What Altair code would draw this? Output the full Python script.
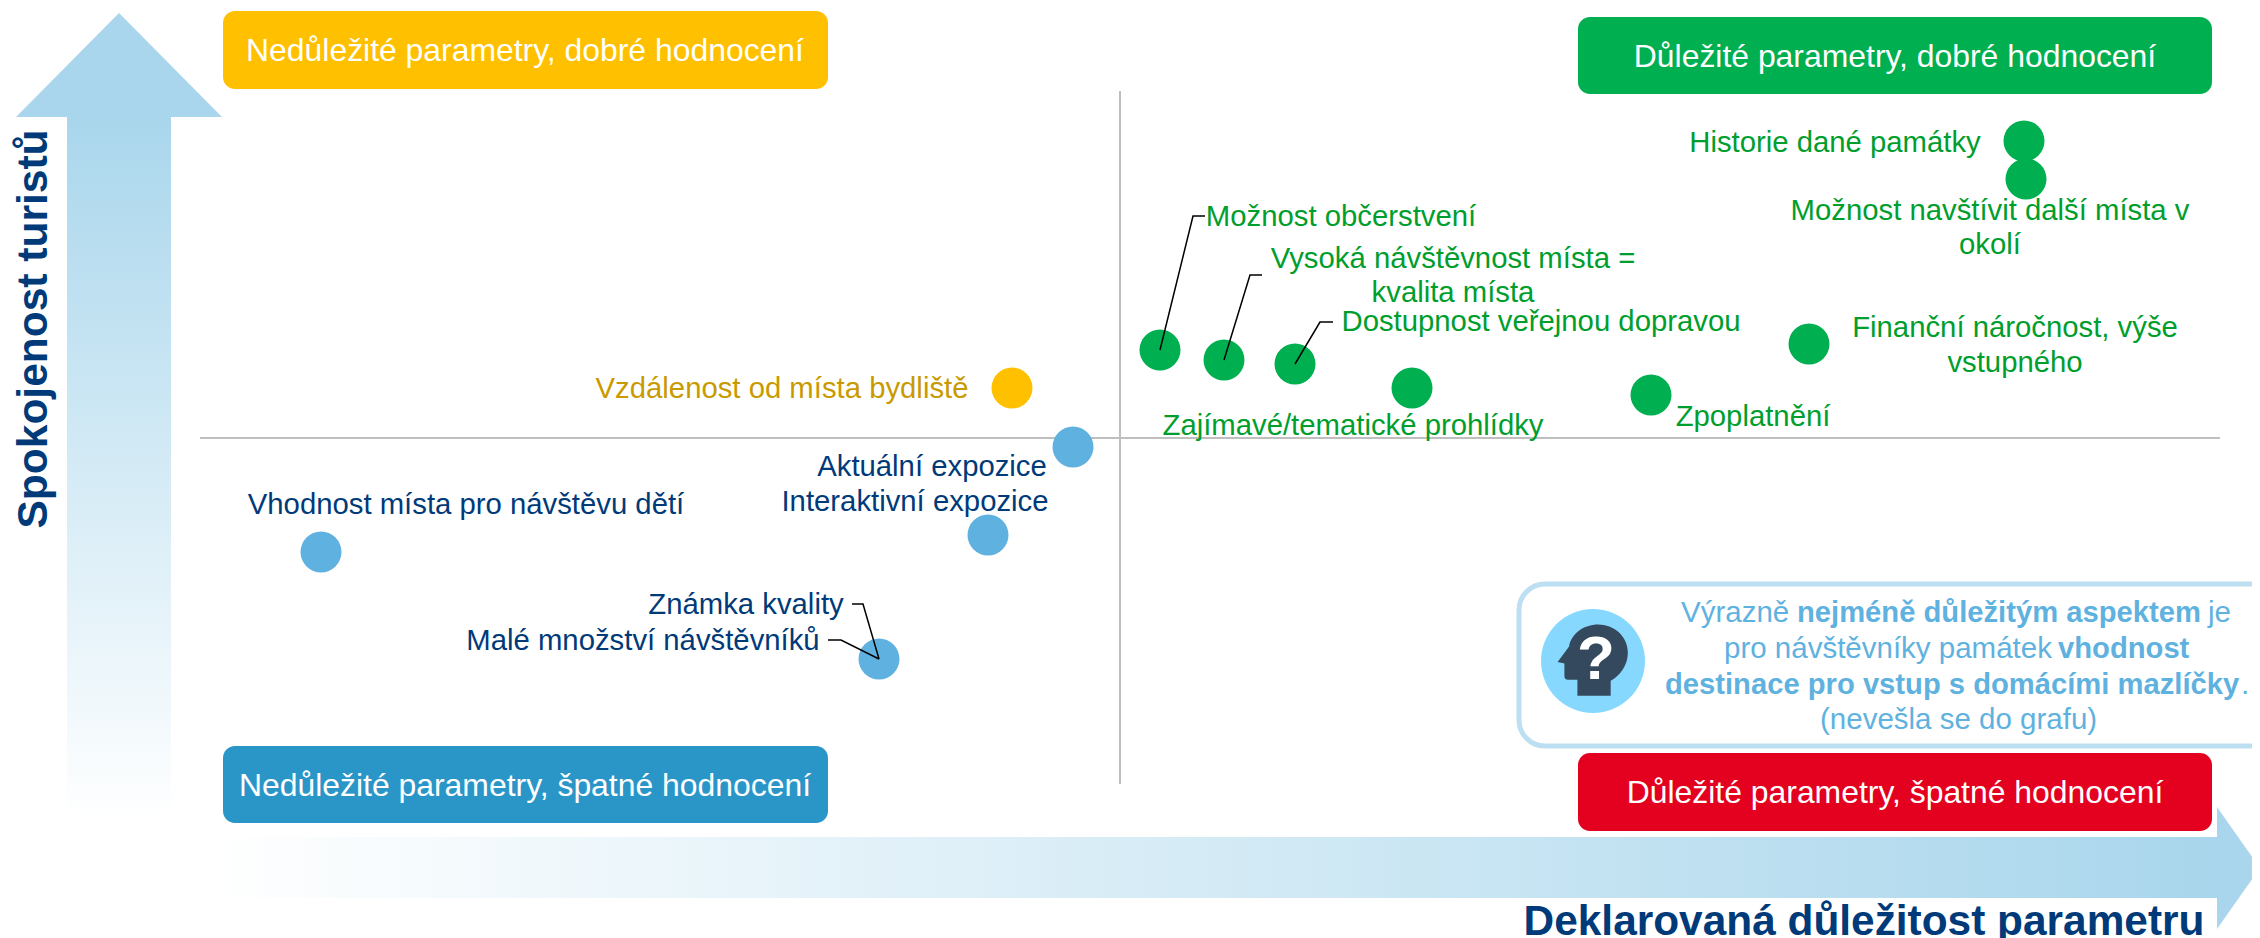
import altair as alt
import pandas as pd

FONT = "Liberation Sans"
NAVY = "#003A78"
GREEN_T = "#009E2D"
GREEN = "#00AF50"
YELLOW = "#FFC000"
YELLOW_T = "#C99A00"
BLUE = "#5FB2E0"
ARROW = "#A9D6EC"
LINE = "#BFBFBF"

# ---- data ----
point_x = [1012, 1073, 988, 321, 879, 2024, 2026, 1160, 1224, 1295, 1412, 1651, 1809]
point_y = [388, 447, 535, 552, 659, 141, 179, 350, 360, 364, 388, 395, 344]
point_group = ["y", "b", "b", "b", "b", "g", "g", "g", "g", "g", "g", "g", "g"]

box_x = [223, 1578, 223, 1578]
box_x2 = [828, 2212, 828, 2212]
box_y = [11, 17, 746, 753]
box_y2 = [89, 94, 823, 831]
box_col = [YELLOW, "#00AF50", "#2A96C8", "#E4001F"]
box_txt = ["Nedůležité parametry, dobré hodnocení", "Důležité parametry, dobré hodnocení",
           "Nedůležité parametry, špatné hodnocení", "Důležité parametry, špatné hodnocení"]
box_tx = [525, 1895, 525, 1895]
box_ty = [51, 57, 786, 793]

label_txt = ["Vzdálenost od místa bydliště", "Aktuální expozice", "Interaktivní expozice",
             "Vhodnost místa pro návštěvu dětí", "Známka kvality", "Malé množství návštěvníků",
             "Historie dané památky", "Možnost navštívit další místa v", "okolí",
             "Možnost občerstvení", "Vysoká návštěvnost místa =", "kvalita místa",
             "Dostupnost veřejnou dopravou", "Finanční náročnost, výše", "vstupného",
             "Zajímavé/tematické prohlídky", "Zpoplatnění"]
label_x = [782, 932, 915, 466, 746, 643, 1835, 1990, 1990, 1341, 1453, 1453, 1541, 2015, 2015, 1353, 1753]
label_y = [389, 467, 502, 505, 605, 641, 143, 211, 245, 217, 259, 293, 322, 328, 363, 426, 417]
label_col = [YELLOW_T] + [NAVY] * 5 + [GREEN_T] * 11

lead_id = [0, 0, 0, 1, 1, 1, 2, 2, 2, 3, 3, 3, 4, 4, 4]
lead_ord = [0, 1, 2] * 5
lead_x = [852, 863, 879, 828, 841, 879, 1205, 1193, 1160, 1262, 1250, 1224, 1333, 1320, 1295]
lead_y = [604, 604, 659, 640, 640, 659, 216, 216, 350, 275, 275, 360, 322, 322, 364]

note_txt = ["Výrazně", "nejméně důležitým aspektem", "je", "pro návštěvníky památek", "vhodnost",
            "destinace pro vstup s domácími mazlíčky", ".", "(nevešla se do grafu)"]
note_x = [1681, 1797, 2208, 1724, 2058, 1665, 2241, 1820]
note_y = [613, 613, 613, 649, 649, 685, 685, 720]
note_w = ["normal", "bold", "normal", "normal", "bold", "bold", "normal", "normal"]

HEAD = ("M-.30 .67 L.34 .67 L.34 .38 C.52 .28 .67 .08 .67 -.16 C.67 -.48 .40 -.70 .10 -.70 "
        "C-.18 -.70 -.42 -.52 -.46 -.28 L-.68 .02 L-.55 .05 L-.55 .30 Q-.55 .36 -.48 .36 L-.30 .36 Z")

# ---- scales ----
X = alt.Scale(domain=[8, 2252], nice=False, zero=False)
Y = alt.Scale(domain=[8, 938], nice=False, zero=False, reverse=True)
def xe(f="x"): return alt.X(f + ":Q", scale=X, axis=None)
def ye(f="y"): return alt.Y(f + ":Q", scale=Y, axis=None)
def X2(f="x2"): return alt.X2(f + ":Q")
def Y2(f="y2"): return alt.Y2(f + ":Q")
def df(**k): return alt.Data(values=pd.DataFrame(k).to_dict("records"))

grad_v = alt.Gradient(gradient="linear", x1=0, y1=0, x2=0, y2=1,
                      stops=[alt.GradientStop(color=ARROW, offset=0), alt.GradientStop(color="#FFFFFF", offset=1)])
grad_h = alt.Gradient(gradient="linear", x1=0, y1=0, x2=1, y2=0,
                      stops=[alt.GradientStop(color="#FFFFFF", offset=0), alt.GradientStop(color=ARROW, offset=1)])

layers = []
# arrows
layers.append(alt.Chart(df(x=[67], x2=[171], y=[117], y2=[820])).mark_rect(fill=grad_v).encode(x=xe(), x2=X2(), y=ye(), y2=Y2()))
layers.append(alt.Chart(df(x=[119, 16], x2=[119, 222], y=[13, 117])).mark_area(orient="horizontal", color=ARROW).encode(y=ye(), x=xe(), x2=X2()))
layers.append(alt.Chart(df(x=[205], x2=[2217], y=[837], y2=[898])).mark_rect(fill=grad_h).encode(x=xe(), x2=X2(), y=ye(), y2=Y2()))
layers.append(alt.Chart(df(x=[2217, 2260], y=[807, 868], y2=[929, 868])).mark_area(orient="vertical", color=ARROW).encode(x=xe(), y=ye(), y2=Y2()))
# quadrant lines
layers.append(alt.Chart(df(x=[1120], y=[91], y2=[784])).mark_rule(color=LINE, strokeWidth=2).encode(x=xe(), y=ye(), y2=Y2()))
layers.append(alt.Chart(df(x=[200], x2=[2220], y=[438])).mark_rule(color=LINE, strokeWidth=2).encode(x=xe(), x2=X2(), y=ye()))
# points
pcol = {"y": YELLOW, "b": BLUE, "g": GREEN}
for g, c in pcol.items():
    idx = [i for i, v in enumerate(point_group) if v == g]
    layers.append(alt.Chart(df(x=[point_x[i] for i in idx], y=[point_y[i] for i in idx]))
                  .mark_point(filled=True, shape="circle", size=1681, color=c, opacity=1).encode(x=xe(), y=ye()))
# leader lines
layers.append(alt.Chart(df(x=lead_x, y=lead_y, i=lead_id, o=lead_ord)).mark_line(color="#000000", strokeWidth=1.5)
              .encode(x=xe(), y=ye(), detail="i:N", order="o:Q"))
# boxes
for i in range(4):
    layers.append(alt.Chart(df(x=[box_x[i]], x2=[box_x2[i]], y=[box_y[i]], y2=[box_y2[i]]))
                  .mark_rect(color=box_col[i], cornerRadius=12).encode(x=xe(), x2=X2(), y=ye(), y2=Y2()))
    layers.append(alt.Chart(df(x=[box_tx[i]], y=[box_ty[i]], t=[box_txt[i]]))
                  .mark_text(font=FONT, fontSize=31.9, color="#FFFFFF", align="center", baseline="middle")
                  .encode(x=xe(), y=ye(), text="t:N"))
# labels
for c in [YELLOW_T, NAVY, GREEN_T]:
    idx = [i for i, v in enumerate(label_col) if v == c]
    layers.append(alt.Chart(df(x=[label_x[i] for i in idx], y=[label_y[i] for i in idx], t=[label_txt[i] for i in idx]))
                  .mark_text(font=FONT, fontSize=29.3, color=c, align="center", baseline="middle")
                  .encode(x=xe(), y=ye(), text="t:N"))
# note box
layers.append(alt.Chart(df(x=[1519], x2=[2290], y=[584], y2=[746]))
              .mark_rect(fill="#FFFFFF", stroke="#BDDFF2", strokeWidth=5, cornerRadius=26).encode(x=xe(), x2=X2(), y=ye(), y2=Y2()))
layers.append(alt.Chart(df(x=[1593], y=[661])).mark_point(filled=True, shape="circle", size=104**2, color="#87D8FF", opacity=1).encode(x=xe(), y=ye()))
layers.append(alt.Chart(df(x=[1593], y=[661])).mark_point(filled=True, shape=HEAD, size=104**2, color="#34495E", opacity=1).encode(x=xe(), y=ye()))
layers.append(alt.Chart(df(x=[1596], y=[660], t=["?"])).mark_text(font=FONT, fontWeight="bold", fontSize=62, color="#FFFFFF", align="center", baseline="middle").encode(x=xe(), y=ye(), text="t:N"))
for w, s in [("normal", 29.5), ("bold", 29.2)]:
    idx = [i for i, v in enumerate(note_w) if v == w]
    layers.append(alt.Chart(df(x=[note_x[i] for i in idx], y=[note_y[i] for i in idx], t=[note_txt[i] for i in idx]))
                  .mark_text(font=FONT, fontSize=s, fontWeight=w, color=BLUE, align="left", baseline="middle")
                  .encode(x=xe(), y=ye(), text="t:N"))
# axis titles
layers.append(alt.Chart(df(x=[34], y=[329], t=["Spokojenost turistů"]))
              .mark_text(font=FONT, fontWeight="bold", fontSize=42.5, color=NAVY, angle=270, align="center", baseline="middle")
              .encode(x=xe(), y=ye(), text="t:N"))
layers.append(alt.Chart(df(x=[1864], y=[922], t=["Deklarovaná důležitost parametru"]))
              .mark_text(font=FONT, fontWeight="bold", fontSize=42.4, color=NAVY, align="center", baseline="middle")
              .encode(x=xe(), y=ye(), text="t:N"))

chart = alt.layer(*layers).properties(
    width=2244, height=930, padding=0, autosize=alt.AutoSizeParams(type="none"), background="#FFFFFF"
).configure_view(stroke=None)
chart.save("out.html", embed_options={"renderer": "svg", "actions": False})
